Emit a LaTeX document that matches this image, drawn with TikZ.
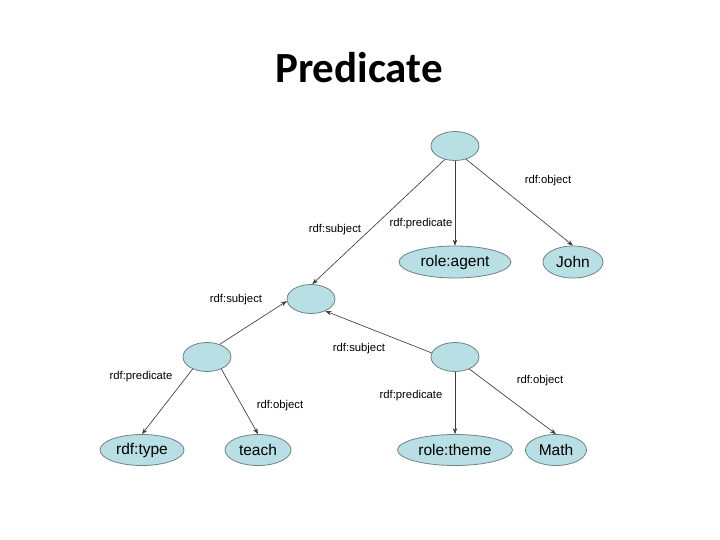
\documentclass[tikz,border=0pt]{standalone}
\usepackage{fontspec}
\setmainfont{Liberation Sans}
\newfontfamily\titlefont{Carlito}
\usetikzlibrary{shapes.geometric,arrows.meta}
\definecolor{nodefill}{RGB}{183,223,228}
\definecolor{nodeborder}{RGB}{110,130,134}
\definecolor{edgecol}{RGB}{60,60,60}
\tikzset{
  blob/.style={ellipse,draw=nodeborder,fill=nodefill,line width=0.8pt,inner sep=0pt,minimum width=#1,minimum height=29pt,font=\fontsize{15.5}{18}\selectfont},
  blob/.default=48pt,
  conn/.style={draw=edgecol,line width=0.65pt,-{Stealth[length=6pt,width=4.5pt]}},
  elabel/.style={font=\fontsize{11.3}{13}\selectfont,inner sep=0pt}
}
\begin{document}
\begin{tikzpicture}[x=1pt,y=-1pt]
\useasboundingbox (0,0) rectangle (720,540);
\node[font=\titlefont\bfseries\fontsize{43}{50}\selectfont] (title) at (359,68) {Predicate};
% nodes
\node[blob] (r) at (455,146) {};
\node[blob=112pt,minimum height=32pt] (agent) at (455,262) {role:agent};
\node[blob=60pt,minimum height=32pt] (john) at (573,262) {John};
\node[blob] (s) at (311,299) {};
\node[blob] (l) at (207,357) {};
\node[blob] (m) at (455,357) {};
\node[blob=84pt,minimum height=31pt] (type) at (142,450) {rdf:type};
\node[blob=66pt,minimum height=31pt] (teach) at (258,450) {teach};
\node[blob=115pt,minimum height=31pt] (theme) at (455,450) {role:theme};
\node[blob=61pt,minimum height=31pt] (math) at (556,450) {Math};
% edges
\draw[conn] (r.233) -- (s.85);
\draw[conn] (r) -- (agent);
\draw[conn] (r.-50) -- (john.north);
\draw[conn] (l.45) -- (s.185);
\draw[conn] (m.170) -- (s.-40);
\draw[conn] (l.220) -- (type.north);
\draw[conn] (l.-40) -- (teach.north);
\draw[conn] (m) -- (theme);
\draw[conn] (m.-40) -- (math.north);
% labels
\node[elabel] (lb1) at (548,181) {rdf:object};
\node[elabel] (lb2) at (335,230) {rdf:subject};
\node[elabel] (lb3) at (421,224) {rdf:predicate};
\node[elabel] (lb4) at (236,300) {rdf:subject};
\node[elabel] (lb5) at (359,349) {rdf:subject};
\node[elabel] (lb6) at (141,377) {rdf:predicate};
\node[elabel] (lb7) at (280,406) {rdf:object};
\node[elabel] (lb8) at (411,396) {rdf:predicate};
\node[elabel] (lb9) at (540,381) {rdf:object};
\end{tikzpicture}
\end{document}
